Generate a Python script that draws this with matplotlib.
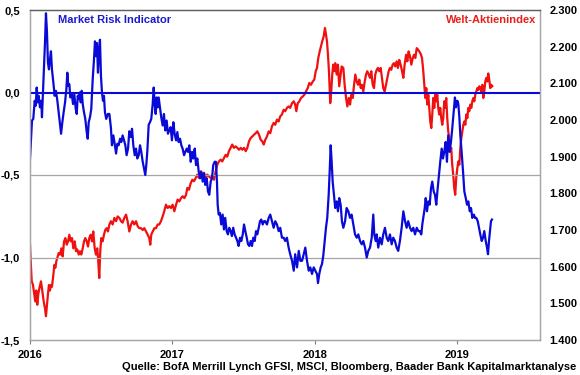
import numpy as np
import matplotlib
matplotlib.use('Agg')
import matplotlib.pyplot as plt
from matplotlib.ticker import FuncFormatter

plt.rcParams['font.family'] = ['Liberation Sans', 'DejaVu Sans']
plt.rcParams['font.weight'] = 'bold'

# x positions are years after 1 Jan 2016
year_labels = ['2016', '2017', '2018', '2019']

# Market Risk Indicator (left axis)
mri_t = [0.000, 0.014, 0.023, 0.033, 0.040, 0.047, 0.054, 0.061, 0.070, 0.079, 0.084, 0.091, 0.098, 0.105,
         0.112, 0.119, 0.126, 0.133, 0.140, 0.147, 0.154, 0.164, 0.173, 0.182, 0.192, 0.201, 0.211, 0.218,
         0.227, 0.236, 0.246, 0.255, 0.262, 0.269, 0.276, 0.283, 0.293, 0.302, 0.311, 0.321, 0.328, 0.335,
         0.342, 0.349, 0.356, 0.363, 0.370, 0.379, 0.388, 0.398, 0.405, 0.412, 0.421, 0.430, 0.440, 0.449,
         0.456, 0.463, 0.470, 0.477, 0.484, 0.491, 0.498, 0.505, 0.512, 0.519, 0.526, 0.535, 0.547, 0.557,
         0.568, 0.575, 0.585, 0.594, 0.604, 0.613, 0.622, 0.632, 0.641, 0.650, 0.660, 0.669, 0.678, 0.688,
         0.697, 0.707, 0.716, 0.725, 0.735, 0.744, 0.753, 0.763, 0.772, 0.781, 0.791, 0.800, 0.809, 0.816,
         0.823, 0.833, 0.842, 0.851, 0.861, 0.868, 0.875, 0.882, 0.889, 0.896, 0.903, 0.912, 0.921, 0.931,
         0.940, 0.949, 0.959, 0.968, 0.977, 0.987, 0.996, 1.006, 1.015, 1.025, 1.034, 1.043, 1.053, 1.062,
         1.071, 1.081, 1.090, 1.100, 1.109, 1.118, 1.128, 1.137, 1.146, 1.156, 1.165, 1.174, 1.184, 1.193,
         1.202, 1.212, 1.221, 1.230, 1.240, 1.249, 1.258, 1.268, 1.277, 1.286, 1.296, 1.305, 1.312, 1.317,
         1.324, 1.333, 1.342, 1.352, 1.361, 1.370, 1.380, 1.389, 1.398, 1.408, 1.417, 1.426, 1.436, 1.446,
         1.455, 1.464, 1.474, 1.483, 1.493, 1.502, 1.511, 1.521, 1.530, 1.539, 1.549, 1.558, 1.567, 1.577,
         1.586, 1.595, 1.605, 1.614, 1.623, 1.633, 1.642, 1.651, 1.663, 1.675, 1.686, 1.698, 1.710, 1.721,
         1.733, 1.745, 1.756, 1.768, 1.780, 1.791, 1.803, 1.815, 1.826, 1.839, 1.851, 1.861, 1.874, 1.886,
         1.897, 1.909, 1.921, 1.932, 1.944, 1.956, 1.967, 1.979, 1.991, 2.002, 2.014, 2.021, 2.030, 2.040,
         2.049, 2.058, 2.068, 2.077, 2.086, 2.096, 2.103, 2.110, 2.117, 2.124, 2.133, 2.142, 2.152, 2.161,
         2.170, 2.180, 2.189, 2.199, 2.211, 2.222, 2.234, 2.246, 2.257, 2.269, 2.281, 2.293, 2.304, 2.316,
         2.328, 2.339, 2.351, 2.363, 2.374, 2.386, 2.398, 2.409, 2.416, 2.426, 2.433, 2.444, 2.456, 2.468,
         2.479, 2.491, 2.503, 2.514, 2.526, 2.538, 2.549, 2.561, 2.573, 2.584, 2.596, 2.608, 2.620, 2.632,
         2.643, 2.654, 2.667, 2.678, 2.690, 2.702, 2.714, 2.725, 2.735, 2.746, 2.753, 2.763, 2.770, 2.777,
         2.786, 2.795, 2.805, 2.814, 2.823, 2.833, 2.842, 2.851, 2.861, 2.870, 2.879, 2.889, 2.898, 2.907,
         2.917, 2.926, 2.935, 2.945, 2.954, 2.963, 2.973, 2.982, 2.989, 2.999, 3.006, 3.013, 3.020, 3.029,
         3.039, 3.048, 3.058, 3.067, 3.076, 3.086, 3.095, 3.104, 3.115, 3.123, 3.132, 3.142, 3.151, 3.160,
         3.170, 3.179, 3.188, 3.198, 3.207, 3.214, 3.221, 3.228, 3.235, 3.242]
mri_v = [-0.40, -0.17, -0.16, -0.05, -0.08, 0.03, -0.06, -0.02, -0.09, -0.05, -0.15, 0.00, 0.15, 0.30,
         0.48, 0.37, 0.18, 0.14, 0.20, 0.25, 0.14, 0.06, -0.02, 0.01, -0.05, -0.12, -0.20, -0.25,
         -0.18, -0.12, -0.06, 0.02, 0.12, 0.04, 0.05, -0.03, -0.01, -0.07, -0.01, -0.10, -0.13, -0.02,
         -0.04, 0.00, -0.06, 0.01, -0.07, -0.12, -0.16, -0.24, -0.28, -0.18, -0.15, -0.10, 0.08, 0.20,
         0.31, 0.22, 0.30, 0.12, 0.25, 0.32, 0.10, 0.00, -0.05, -0.02, -0.12, -0.16, -0.13, -0.13,
         -0.215, -0.32, -0.26, -0.31, -0.37, -0.31, -0.32, -0.28, -0.30, -0.26, -0.29, -0.32, -0.38, -0.34,
         -0.235, -0.27, -0.22, -0.32, -0.38, -0.34, -0.40, -0.38, -0.32, -0.36, -0.42, -0.46, -0.50, -0.44,
         -0.36, -0.195, -0.18, -0.16, -0.07, 0.03, -0.07, -0.13, -0.03, -0.09, -0.03, -0.09, -0.15, -0.20,
         -0.13, -0.23, -0.17, -0.25, -0.23, -0.21, -0.29, -0.18, -0.25, -0.29, -0.24, -0.30, -0.28, -0.32,
         -0.34, -0.38, -0.36, -0.34, -0.36, -0.32, -0.42, -0.36, -0.40, -0.34, -0.44, -0.40, -0.48, -0.52,
         -0.48, -0.54, -0.49, -0.56, -0.52, -0.60, -0.62, -0.54, -0.52, -0.44, -0.42, -0.42, -0.54, -0.68,
         -0.74, -0.73, -0.80, -0.74, -0.83, -0.76, -0.84, -0.86, -0.82, -0.84, -0.87, -0.82, -0.86, -0.88,
         -0.90, -0.93, -0.88, -0.90, -0.86, -0.80, -0.84, -0.88, -0.92, -0.93, -0.90, -0.93, -0.88, -0.90,
         -0.84, -0.86, -0.82, -0.78, -0.77, -0.80, -0.78, -0.78, -0.80, -0.76, -0.74, -0.78, -0.82, -0.78,
         -0.80, -0.84, -0.82, -0.88, -0.88, -0.90, -0.88, -0.94, -0.98, -1.02, -1.08, -0.98, -1.06, -0.96,
         -1.02, -1.02, -0.98, -0.94, -1.02, -1.08, -1.06, -1.10, -1.06, -1.08, -1.10, -1.155, -1.10, -1.06,
         -1.04, -0.99, -0.90, -0.82, -0.76, -0.62, -0.48, -0.32, -0.42, -0.54, -0.62, -0.70, -0.66, -0.72,
         -0.64, -0.68, -0.78, -0.82, -0.78, -0.70, -0.72, -0.76, -0.74, -0.80, -0.86, -0.88, -0.86, -0.90,
         -0.92, -0.90, -0.94, -1.00, -0.96, -0.94, -0.88, -0.74, -0.86, -0.90, -0.86, -0.94, -0.88, -0.92,
         -0.86, -0.82, -0.88, -0.90, -0.86, -0.92, -0.88, -0.90, -0.94, -0.96, -0.90, -0.82, -0.72, -0.78,
         -0.82, -0.78, -0.82, -0.84, -0.82, -0.86, -0.82, -0.84, -0.84, -0.86, -0.80, -0.74, -0.70, -0.64,
         -0.72, -0.66, -0.68, -0.58, -0.54, -0.60, -0.62, -0.68, -0.58, -0.50, -0.42, -0.34, -0.40, -0.36,
         -0.30, -0.42, -0.26, -0.36, -0.30, -0.22, -0.12, -0.03, -0.09, -0.05, -0.07, -0.15, -0.26, -0.36,
         -0.48, -0.60, -0.64, -0.68, -0.66, -0.72, -0.70, -0.76, -0.74, -0.76, -0.76, -0.78, -0.82, -0.86,
         -0.90, -0.88, -0.84, -0.90, -0.94, -0.98, -0.90, -0.84, -0.78, -0.77]

# Welt-Aktienindex (right axis)
msci_t = [0.000, 0.005, 0.012, 0.021, 0.030, 0.037, 0.044, 0.051, 0.058, 0.068, 0.077, 0.086, 0.096, 0.105,
          0.112, 0.119, 0.126, 0.133, 0.140, 0.147, 0.154, 0.164, 0.171, 0.178, 0.185, 0.192, 0.201, 0.211,
          0.220, 0.229, 0.239, 0.248, 0.258, 0.267, 0.276, 0.286, 0.295, 0.304, 0.314, 0.323, 0.332, 0.342,
          0.351, 0.360, 0.370, 0.379, 0.388, 0.398, 0.407, 0.416, 0.426, 0.435, 0.444, 0.454, 0.463, 0.472,
          0.479, 0.486, 0.493, 0.500, 0.510, 0.519, 0.528, 0.538, 0.547, 0.557, 0.568, 0.580, 0.592, 0.604,
          0.615, 0.627, 0.639, 0.650, 0.662, 0.674, 0.685, 0.697, 0.709, 0.720, 0.732, 0.744, 0.756, 0.767,
          0.779, 0.791, 0.802, 0.814, 0.826, 0.837, 0.844, 0.851, 0.861, 0.873, 0.884, 0.896, 0.907, 0.919,
          0.931, 0.942, 0.954, 0.966, 0.977, 0.989, 1.001, 1.013, 1.025, 1.036, 1.048, 1.060, 1.071, 1.083,
          1.095, 1.104, 1.116, 1.128, 1.139, 1.151, 1.163, 1.174, 1.186, 1.198, 1.209, 1.221, 1.233, 1.244,
          1.256, 1.268, 1.279, 1.291, 1.303, 1.314, 1.326, 1.338, 1.349, 1.361, 1.373, 1.384, 1.396, 1.408,
          1.419, 1.431, 1.443, 1.455, 1.467, 1.479, 1.490, 1.502, 1.514, 1.525, 1.537, 1.549, 1.560, 1.572,
          1.584, 1.595, 1.607, 1.619, 1.630, 1.640, 1.651, 1.663, 1.675, 1.686, 1.698, 1.710, 1.721, 1.733,
          1.745, 1.756, 1.768, 1.780, 1.791, 1.803, 1.815, 1.826, 1.839, 1.851, 1.861, 1.869, 1.879, 1.890,
          1.902, 1.914, 1.925, 1.937, 1.949, 1.960, 1.972, 1.984, 1.995, 2.005, 2.014, 2.023, 2.033, 2.042,
          2.051, 2.061, 2.070, 2.077, 2.084, 2.091, 2.098, 2.103, 2.107, 2.114, 2.121, 2.128, 2.135, 2.142,
          2.152, 2.161, 2.170, 2.180, 2.187, 2.199, 2.208, 2.218, 2.227, 2.237, 2.246, 2.255, 2.265, 2.274,
          2.283, 2.293, 2.302, 2.311, 2.321, 2.330, 2.339, 2.349, 2.358, 2.367, 2.377, 2.386, 2.395, 2.405,
          2.414, 2.423, 2.433, 2.442, 2.451, 2.461, 2.470, 2.479, 2.489, 2.498, 2.507, 2.517, 2.526, 2.535,
          2.545, 2.554, 2.563, 2.573, 2.582, 2.591, 2.601, 2.611, 2.620, 2.629, 2.639, 2.648, 2.657, 2.667,
          2.676, 2.686, 2.695, 2.704, 2.714, 2.723, 2.732, 2.742, 2.751, 2.760, 2.767, 2.774, 2.781, 2.788,
          2.795, 2.802, 2.809, 2.816, 2.823, 2.830, 2.837, 2.844, 2.851, 2.858, 2.865, 2.872, 2.879, 2.886,
          2.893, 2.900, 2.907, 2.914, 2.921, 2.928, 2.935, 2.942, 2.949, 2.956, 2.963, 2.970, 2.977, 2.984,
          2.991, 2.999, 3.006, 3.013, 3.020, 3.027, 3.034, 3.041, 3.048, 3.055, 3.062, 3.069, 3.076, 3.083,
          3.090, 3.097, 3.104, 3.111, 3.118, 3.125, 3.132, 3.139, 3.146, 3.153, 3.160, 3.167, 3.174, 3.181,
          3.188, 3.195, 3.202, 3.209, 3.216, 3.223, 3.230, 3.237, 3.244]
msci_v = [1660, 1615, 1560, 1550, 1524, 1505, 1535, 1496, 1525, 1545, 1560, 1535, 1505, 1487,
          1465, 1495, 1525, 1550, 1535, 1550, 1545, 1578, 1605, 1597, 1615, 1625, 1637, 1633,
          1650, 1628, 1669, 1678, 1660, 1669, 1687, 1669, 1678, 1650, 1669, 1642, 1647, 1633,
          1642, 1633, 1650, 1669, 1678, 1669, 1655, 1678, 1687, 1669, 1696, 1650, 1633, 1650,
          1615, 1569, 1642, 1678, 1669, 1687, 1700, 1705, 1696, 1715, 1724, 1715, 1733, 1724,
          1737, 1733, 1724, 1720, 1733, 1742, 1724, 1696, 1715, 1724, 1715, 1724, 1710, 1705,
          1705, 1700, 1705, 1696, 1687, 1678, 1660, 1687, 1696, 1705, 1705, 1715, 1715, 1724,
          1737, 1751, 1769, 1760, 1765, 1760, 1769, 1751, 1769, 1783, 1778, 1787, 1792, 1787,
          1796, 1815, 1810, 1828, 1837, 1833, 1842, 1851, 1842, 1860, 1851, 1856, 1842, 1851,
          1846, 1842, 1846, 1837, 1860, 1878, 1887, 1892, 1887, 1896, 1905, 1900, 1915, 1924,
          1933, 1924, 1928, 1924, 1919, 1924, 1919, 1924, 1915, 1924, 1942, 1951, 1955, 1960,
          1964, 1969, 1960, 1946, 1942, 1933, 1946, 1955, 1969, 1964, 1983, 1992, 1987, 2001,
          1996, 2010, 2015, 2028, 2024, 2033, 2037, 2033, 2046, 2051, 2042, 2024, 2046, 2051,
          2060, 2064, 2069, 2078, 2087, 2101, 2096, 2105, 2110, 2133, 2142, 2169, 2187, 2201,
          2215, 2228, 2251, 2233, 2215, 2178, 2133, 2087, 2046, 2078, 2124, 2151, 2133, 2155,
          2124, 2151, 2092, 2124, 2146, 2142, 2096, 2060, 2037, 2060, 2042, 2069, 2060, 2096,
          2124, 2105, 2096, 2110, 2087, 2096, 2078, 2105, 2124, 2133, 2124, 2115, 2133, 2096,
          2087, 2124, 2137, 2142, 2133, 2142, 2115, 2087, 2078, 2096, 2115, 2133, 2142, 2137,
          2151, 2155, 2146, 2160, 2142, 2164, 2151, 2133, 2115, 2151, 2178, 2160, 2187, 2173,
          2151, 2169, 2178, 2169, 2196, 2192, 2187, 2180, 2169, 2133, 2096, 2060, 2087, 2042,
          2069, 2033, 1996, 1978, 2015, 2060, 2033, 2069, 2051, 2069, 2033, 2015, 2033, 2005,
          1987, 2005, 2051, 2033, 2060, 2005, 1969, 1951, 1915, 1924, 1878, 1851, 1815, 1796,
          1842, 1869, 1887, 1878, 1924, 1951, 1969, 1987, 1996, 1987, 2015, 2005, 2033, 2024,
          2042, 2033, 2051, 2060, 2051, 2069, 2078, 2087, 2082, 2092, 2087, 2078, 2096, 2060,
          2078, 2105, 2115, 2105, 2127, 2110, 2087, 2096, 2092]

blue = '#0a0ad8'
red = '#f01010'
grid_gray = '#a6a6a6'

fig = plt.figure(figsize=(5.8, 3.75), dpi=100)
ax = fig.add_axes([30 / 580, 35 / 375, 510 / 580, 330 / 375])
ax2 = ax.twinx()

ax2.plot(msci_t, msci_v, color=red, lw=1.6)
ax.plot(mri_t, mri_v, color=blue, lw=1.6)
ax.axhline(0, color=blue, lw=1.5)

# left axis on top so the blue line sits above the red one
ax.set_zorder(ax2.get_zorder() + 1)
ax.patch.set_visible(False)

ax.set_xlim(0, 3.579)
ax.set_ylim(-1.5, 0.5)
ax2.set_ylim(1400, 2300)

ax.set_yticks([-1.5, -1.0, -0.5, 0.0, 0.5])
ax.yaxis.set_major_formatter(FuncFormatter(lambda v, p: f'{v:.1f}'.replace('.', ',')))
ax2.set_yticks(np.arange(1400, 2301, 100))
ax2.yaxis.set_major_formatter(FuncFormatter(lambda v, p: f'{v / 1000:.3f}'))

ax.set_xticks(range(len(year_labels)))
ax.set_xticklabels(year_labels)

for y in [-1.0, -0.5]:
    ax.axhline(y, color=grid_gray, lw=0.9, zorder=0)

ax.tick_params(axis='y', length=0, pad=7, labelsize=8)
ax2.tick_params(axis='y', length=0, pad=7, labelsize=8)
ax.tick_params(axis='x', length=3, width=0.8, color='#808080', pad=4, labelsize=8)

for a in (ax, ax2):
    for s in a.spines.values():
        s.set_color(grid_gray)
        s.set_linewidth(0.9)
ax.spines['top'].set_color('#606060')
ax2.spines['top'].set_color('#606060')

fig.text(58 / 580, 1 - 20 / 375, 'Market Risk Indicator', color='#1a1acc', fontsize=8,
         fontweight='bold', va='center', ha='left')
fig.text(536 / 580, 1 - 20 / 375, 'Welt-Aktienindex', color='#e8201c', fontsize=8,
         fontweight='bold', va='center', ha='right')
fig.text(576 / 580, 1 - 367 / 375,
         'Quelle: BofA Merrill Lynch GFSI, MSCI, Bloomberg, Baader Bank Kapitalmarktanalyse',
         fontsize=8, fontweight='bold', va='center', ha='right')

fig.savefig('out.png', dpi=100)
